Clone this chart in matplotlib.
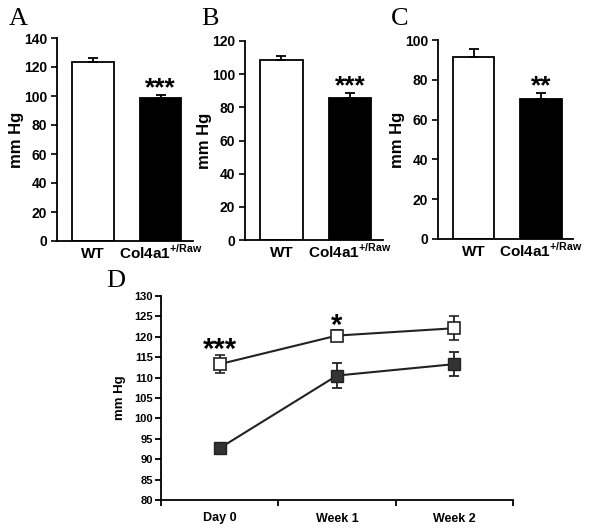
import matplotlib
matplotlib.use("Agg")
import matplotlib.pyplot as plt
import numpy as np

plt.rcParams['font.family'] = ['Liberation Sans', 'DejaVu Sans']
plt.rcParams['mathtext.fontset'] = 'custom'
plt.rcParams['mathtext.rm'] = 'Liberation Sans:bold'
plt.rcParams['mathtext.bf'] = 'Liberation Sans:bold'

# Bar panels A-C: WT vs Col4a1 mutant
groups = ["WT", r"Col4a1$^{\mathbf{+/Raw}}$"]
a_vals = [123.5, 98.7]
a_err = [2.7, 2.0]
b_vals = [108.4, 85.6]
b_err = [2.5, 3.0]
c_vals = [91.5, 70.3]
c_err = [4.0, 3.0]
bar_stars = ["***", "***", "**"]

# Panel D: time course
days = ["Day 0", "Week 1", "Week 2"]
wt_line = [113.3, 120.3, 122.1]
wt_line_err = [2.2, 1.4, 3.0]
mut_line = [92.7, 110.5, 113.3]
mut_line_err = [1.0, 3.0, 2.9]
line_stars = ["***", "*", ""]

W, H = 600, 530
fig = plt.figure(figsize=(W / 100, H / 100), dpi=100)


def rect(l, r, t, b):
    return [l / W, 1 - b / H, (r - l) / W, (b - t) / H]


def bar_panel(box, vals, errs, ymax, step, star, letter, letter_x):
    ax = fig.add_axes(rect(*box))
    x = np.arange(len(vals))
    ax.bar(x, vals, width=0.62, color=["white", "black"], edgecolor="black",
           linewidth=1.3, yerr=[[0, 0], errs], capsize=3.5,
           error_kw=dict(elinewidth=1.3, capthick=1.3, ecolor="black"))
    ax.set_xlim(-0.53, 1.48)
    ax.set_ylim(0, ymax)
    ax.set_yticks(np.arange(0, ymax + 1, step))
    ax.set_xticks(x)
    ax.set_xticklabels(groups, fontsize=11, fontweight="bold")
    for lab in ax.get_xticklabels():
        lab.set_verticalalignment("baseline")
    ax.tick_params(axis="x", length=0, pad=12.5)
    ax.tick_params(axis="y", length=4, width=1.2, labelsize=10, pad=3)
    for lab in ax.get_yticklabels():
        lab.set_fontweight("bold")
    for s in ["top", "right"]:
        ax.spines[s].set_visible(False)
    for s in ["left", "bottom"]:
        ax.spines[s].set_linewidth(1.3)
    ax.set_ylabel("mm Hg", fontsize=12, fontweight="bold", labelpad=0)
    ax.annotate(star, xy=(1, vals[1] + errs[1]), xytext=(0, 0),
                textcoords="offset points", ha="center", va="baseline",
                fontsize=19, fontweight="bold")
    fig.text(letter_x / W, 1 - 25 / H, letter, family="Liberation Serif",
             fontsize=19, va="baseline")
    return ax


bar_panel((57, 193, 38, 241), a_vals, a_err, 140, 20, bar_stars[0], "A", 9)
bar_panel((245, 383, 41, 240), b_vals, b_err, 120, 20, bar_stars[1], "B", 201)
bar_panel((438, 573, 40, 239), c_vals, c_err, 100, 20, bar_stars[2], "C", 391)

# Panel D
ax = fig.add_axes(rect(161, 513, 296, 500))
x = np.arange(len(days))
ax.errorbar(x, mut_line, yerr=mut_line_err, color="#222222", lw=1.5,
            marker="s", markersize=8, markerfacecolor="#333333",
            markeredgecolor="#222222", capsize=3.5, elinewidth=1.3, capthick=1.3)
ax.errorbar(x, wt_line, yerr=wt_line_err, color="#222222", lw=1.5,
            marker="s", markersize=9, markerfacecolor="white",
            markeredgecolor="#222222", markeredgewidth=1.2,
            capsize=3.5, elinewidth=1.3, capthick=1.3)
ax.set_xlim(-0.5, 2.5)
ax.set_ylim(80, 130)
ax.set_yticks(np.arange(80, 131, 5))
ax.set_xticks([-0.5, 0.5, 1.5, 2.5])
ax.set_xticklabels([])
ax.set_xticks(x, minor=True)
ax.set_xticklabels(days, minor=True, fontsize=9, fontweight="bold")
ax.tick_params(axis="x", which="major", length=4, width=1.3, direction="out")
ax.tick_params(axis="x", which="minor", length=0, pad=9)
ax.tick_params(axis="y", length=4, width=1.3, labelsize=8, pad=2)
for lab in ax.get_yticklabels():
    lab.set_fontweight("bold")
for s in ["top", "right"]:
    ax.spines[s].set_visible(False)
for s in ["left", "bottom"]:
    ax.spines[s].set_linewidth(1.3)
ax.set_ylabel("mm Hg", fontsize=9.5, fontweight="bold", labelpad=6)
for i, st in enumerate(line_stars):
    if st:
        top = wt_line[i] + wt_line_err[i] if i == 0 else wt_line[i]
        off = -2 if i == 0 else 1
        ax.annotate(st, xy=(i, top), xytext=(0, off), textcoords="offset points",
                    ha="center", va="baseline", fontsize=21, fontweight="bold")
fig.text(106 / W, 1 - 287 / H, "D", family="Liberation Serif", fontsize=19,
         va="baseline")

fig.savefig("out.png", dpi=100)
